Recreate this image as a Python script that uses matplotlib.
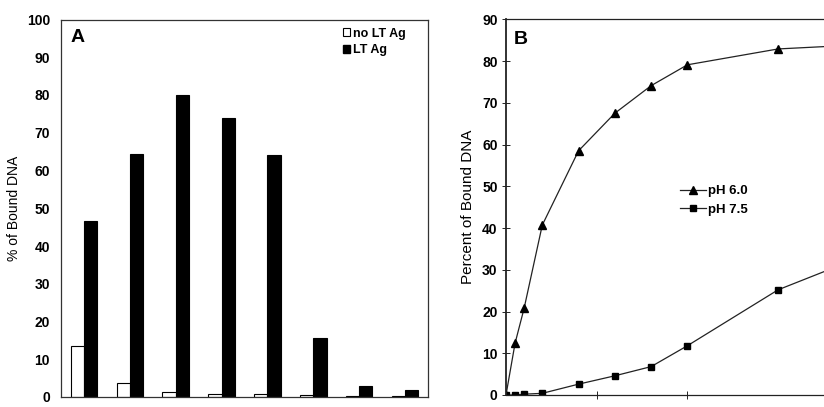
import matplotlib.pyplot as plt
import numpy as np
from matplotlib.patches import Patch

plt.rcParams['font.family'] = ['Liberation Sans', 'DejaVu Sans']

# panel A: bound DNA per fraction
no_lt_ag = [13.5, 3.6, 1.3, 0.9, 0.9, 0.4, 0.3, 0.3]
lt_ag = [46.7, 64.4, 80.0, 73.9, 64.0, 15.6, 2.9, 1.9]

# panel B: binding time course
x_b = [0, 1, 2, 4, 8, 12, 16, 20, 30, 40]
ph60 = [0, 12.4, 20.8, 40.7, 58.5, 67.5, 74.1, 79.1, 82.9, 84.0]
ph75 = [0, 0, 0.2, 0.4, 2.6, 4.6, 6.8, 11.8, 25.2, 33.8]

W, H = 824, 407
fig = plt.figure(figsize=(W / 100, H / 100), dpi=100)

def px_axes(left, top, right, bottom):
    return fig.add_axes([left / W, 1 - bottom / H, (right - left) / W, (bottom - top) / H])

# ---- panel A ----
axA = px_axes(61, 19.5, 428, 397)
pos = np.arange(len(lt_ag)) + 0.5
bw = 0.29
axA.bar(pos - bw / 2, no_lt_ag, bw, color='white', edgecolor='black', linewidth=0.8)
axA.bar(pos + bw / 2, lt_ag, bw, color='black', edgecolor='black', linewidth=0.8)
axA.set_xlim(0, len(lt_ag))
axA.set_ylim(0, 100)
axA.set_yticks(np.arange(0, 101, 10))
axA.set_xticks([])
axA.tick_params(axis='y', length=0, pad=8, labelsize=10)
for lab in axA.get_yticklabels():
    lab.set_fontweight('bold')
axA.set_ylabel('% of Bound DNA', fontsize=10, labelpad=4)
for s in axA.spines.values():
    s.set_linewidth(0.9)
    s.set_color('#333333')
axA.text(0.025, 0.975, 'A', transform=axA.transAxes, fontsize=14, fontweight='bold', va='top')
handles = [Patch(facecolor='white', edgecolor='black', linewidth=0.8, label='no LT Ag'),
           Patch(facecolor='black', edgecolor='black', label='LT Ag')]
axA.legend(handles=handles, loc='upper right', bbox_to_anchor=(0.97, 1.008), frameon=False,
           handlelength=0.6, handleheight=0.6, handletextpad=0.2, labelspacing=0.35,
           prop={'weight': 'bold', 'size': 9})

# ---- panel B ----
axB = px_axes(506, 19.3, 506 + 45 * 9.07, 395)
axB.plot(x_b, ph60, color='#222222', linewidth=0.9, marker='^', markersize=6,
         markerfacecolor='black', markeredgecolor='black', label='pH 6.0')
axB.plot(x_b, ph75, color='#222222', linewidth=0.9, marker='s', markersize=5,
         markerfacecolor='black', markeredgecolor='black', label='pH 7.5')
axB.set_xlim(0, 45)
axB.set_ylim(0, 90)
axB.set_yticks(np.arange(0, 91, 10))
axB.set_xticks([10, 20])
axB.set_xticklabels([])
axB.tick_params(axis='y', direction='inout', length=6, width=0.6, labelsize=10, pad=3)
axB.tick_params(axis='x', direction='inout', length=6, width=0.6)
for lab in axB.get_yticklabels():
    lab.set_fontweight('bold')
axB.set_ylabel('Percent of Bound DNA', fontsize=11, labelpad=5)
for s in axB.spines.values():
    s.set_linewidth(0.9)
    s.set_color('#222222')
axB.spines['left'].set_linewidth(1.3)
axB.text(0.02, 0.97, 'B', transform=axB.transAxes, fontsize=14, fontweight='bold', va='top')
axB.legend(loc='upper left', bbox_to_anchor=((668 - 506) / (45 * 9.07), 0.59), frameon=False,
           handlelength=2.0, handletextpad=0.1, labelspacing=0.45,
           prop={'weight': 'bold', 'size': 9.5})

fig.savefig('out.png', dpi=100)
